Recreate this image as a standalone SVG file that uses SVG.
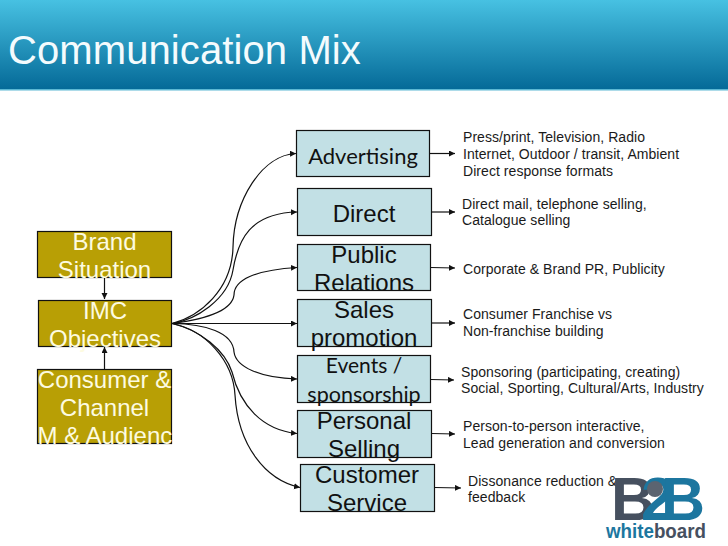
<svg xmlns="http://www.w3.org/2000/svg" width="728" height="546" viewBox="0 0 728 546">
<style>
.a{fill:#b89f05;stroke:#111;stroke-width:1.2}
.b{fill:#c2e0e5;stroke:#111;stroke-width:1.2}
.at{font:24px "Liberation Sans",Arial,sans-serif;fill:#fdfbe0;text-anchor:middle}
.bt{font:24px "Liberation Sans",Arial,sans-serif;fill:#111;text-anchor:middle}
.ct{font:22px Lato,"Open Sans",sans-serif;fill:#111;text-anchor:middle}
.d{font:14px "Liberation Sans",Arial,sans-serif;fill:#1a1a1a;letter-spacing:.06px}
.c{fill:none;stroke:#111;stroke-width:1.2}
</style>
<defs>
<linearGradient id="h" x1="0" y1="0" x2="0" y2="1"><stop offset="0" stop-color="#47c1e2"/><stop offset="1" stop-color="#056a98"/></linearGradient>
<marker id="m" markerWidth="7" markerHeight="7" refX="6" refY="3" orient="auto" markerUnits="userSpaceOnUse"><path d="M0 0L6 3L0 6Z" fill="#111"/></marker>
<clipPath id="cl"><rect x="37" y="369" width="135" height="75"/></clipPath>
</defs>
<rect width="728" height="546" fill="#fff"/>
<g id="header"><rect width="728" height="89" fill="url(#h)"/><rect y="89" width="728" height="1.5" fill="#5cb8d4"/>
<text x="8" y="64" font-family="Liberation Sans,Arial,sans-serif" font-size="40" letter-spacing=".1" fill="#f4fbfd">Communication Mix</text></g>
<g id="connectors">
<path class="c" marker-end="url(#m)" d="M172 323.500C200 316 232 290 233 247C234 200 262 155 296 153.500"/>
<path class="c" marker-end="url(#m)" d="M172 323.500C195 320 228 300 233 270C238 240 250 213 297 212"/>
<path class="c" marker-end="url(#m)" d="M172 323.500C200 320 232 312 234 295C234 280 255 270 297 267.500"/>
<path class="c" marker-end="url(#m)" d="M172 323.500H297"/>
<path class="c" marker-end="url(#m)" d="M172 323.500C205 324 233 332 234 352C236 367 260 378 297 379"/>
<path class="c" marker-end="url(#m)" d="M172 323.500C200 330 225 350 232 372C240 405 262 430 297 433.500"/>
<path class="c" marker-end="url(#m)" d="M172 323.500C205 330 233 360 235 395C238 445 265 480 300 487.500"/>
<path class="c" marker-end="url(#m)" d="M104.500 277V299"/>
<path class="c" marker-end="url(#m)" d="M104.500 369V347"/>
<path class="c" marker-end="url(#m)" d="M429.500 153.500H455"/>
<path class="c" marker-end="url(#m)" d="M431.500 212H455"/>
<path class="c" marker-end="url(#m)" d="M430.500 267.500L455 268"/>
<path class="c" marker-end="url(#m)" d="M431.500 323H455"/>
<path class="c" marker-end="url(#m)" d="M430.500 379.500L454 380"/>
<path class="c" marker-end="url(#m)" d="M431.500 433.500L455 434"/>
<path class="c" marker-end="url(#m)" d="M434.500 487.500L461 488"/>
</g>
<g id="brand"><rect class="a" x="37.500" y="231.500" width="134" height="46"/><text class="at" x="104.500" y="250">Brand</text><text class="at" x="104.500" y="278">Situation</text></g>
<g id="imc"><rect class="a" x="38.500" y="300.500" width="133" height="46"/><text class="at" x="105" y="319">IMC</text><text class="at" x="105" y="347">Objectives</text></g>
<g id="consumer"><rect class="a" x="37.500" y="369.500" width="134" height="74"/><g clip-path="url(#cl)"><text class="at" x="104.500" y="388">Consumer &amp;</text><text class="at" x="104.500" y="416">Channel</text><text class="at" x="37.500" y="444" style="text-anchor:start">M &amp; Audience</text></g></g>
<g id="advertising"><rect class="b" x="296.500" y="130.500" width="133" height="46"/><text class="ct" x="363" y="164">Advertising</text></g>
<g id="direct"><rect class="b" x="297.500" y="188.500" width="134" height="47"/><text class="bt" x="364" y="222">Direct</text></g>
<g id="public"><rect class="b" x="297.500" y="244.500" width="133" height="46"/><text class="bt" x="364" y="263">Public</text><text class="bt" x="364" y="291">Relations</text></g>
<g id="sales"><rect class="b" x="297.500" y="299.500" width="134" height="47"/><text class="bt" x="364" y="318">Sales</text><text class="bt" x="364" y="346">promotion</text></g>
<g id="events"><rect class="b" x="297.500" y="355.500" width="133" height="47"/><text class="ct" x="364" y="373" style="font-size:21px">Events /</text><text class="ct" x="364" y="402" style="font-size:21.500px">sponsorship</text></g>
<g id="personal"><rect class="b" x="297.500" y="410.500" width="134" height="47"/><text class="bt" x="364" y="429">Personal</text><text class="bt" x="364" y="457">Selling</text></g>
<g id="customer"><rect class="b" x="300.500" y="464.500" width="134" height="47"/><text class="bt" x="367" y="483">Customer</text><text class="bt" x="367" y="511">Service</text></g>
<g id="details">
<text class="d" x="463" y="142">Press/print, Television, Radio</text>
<text class="d" x="463" y="159">Internet, Outdoor / transit, Ambient</text>
<text class="d" x="463" y="176">Direct response formats</text>
<text class="d" x="462" y="209">Direct mail, telephone selling,</text>
<text class="d" x="462" y="225">Catalogue selling</text>
<text class="d" x="463" y="274">Corporate &amp; Brand PR, Publicity</text>
<text class="d" x="463" y="319">Consumer Franchise vs</text>
<text class="d" x="463" y="336">Non-franchise building</text>
<text class="d" x="461" y="377">Sponsoring (participating, creating)</text>
<text class="d" x="461" y="393">Social, Sporting, Cultural/Arts, Industry</text>
<text class="d" x="463" y="431">Person-to-person interactive,</text>
<text class="d" x="463" y="448">Lead generation and conversion</text>
<text class="d" x="468" y="486">Dissonance reduction &amp;</text>
<text class="d" x="468" y="502">feedback</text>
</g>
<g id="logo">
<text x="611" y="520" font-family="Liberation Sans,Arial,sans-serif" font-weight="700" font-size="61"><tspan fill="#46505f">B</tspan><tspan dx="-14" fill="#1c769f">2</tspan><tspan dx="-14" fill="#1c769f">B</tspan></text>
<circle cx="655" cy="489" r="8" fill="#5b6470"/>
<text x="606" y="538" font-family="Liberation Sans,Arial,sans-serif" font-weight="700" font-size="21" textLength="100" lengthAdjust="spacingAndGlyphs"><tspan fill="#1c769f">white</tspan><tspan fill="#46505f">board</tspan></text>
</g>
</svg>
